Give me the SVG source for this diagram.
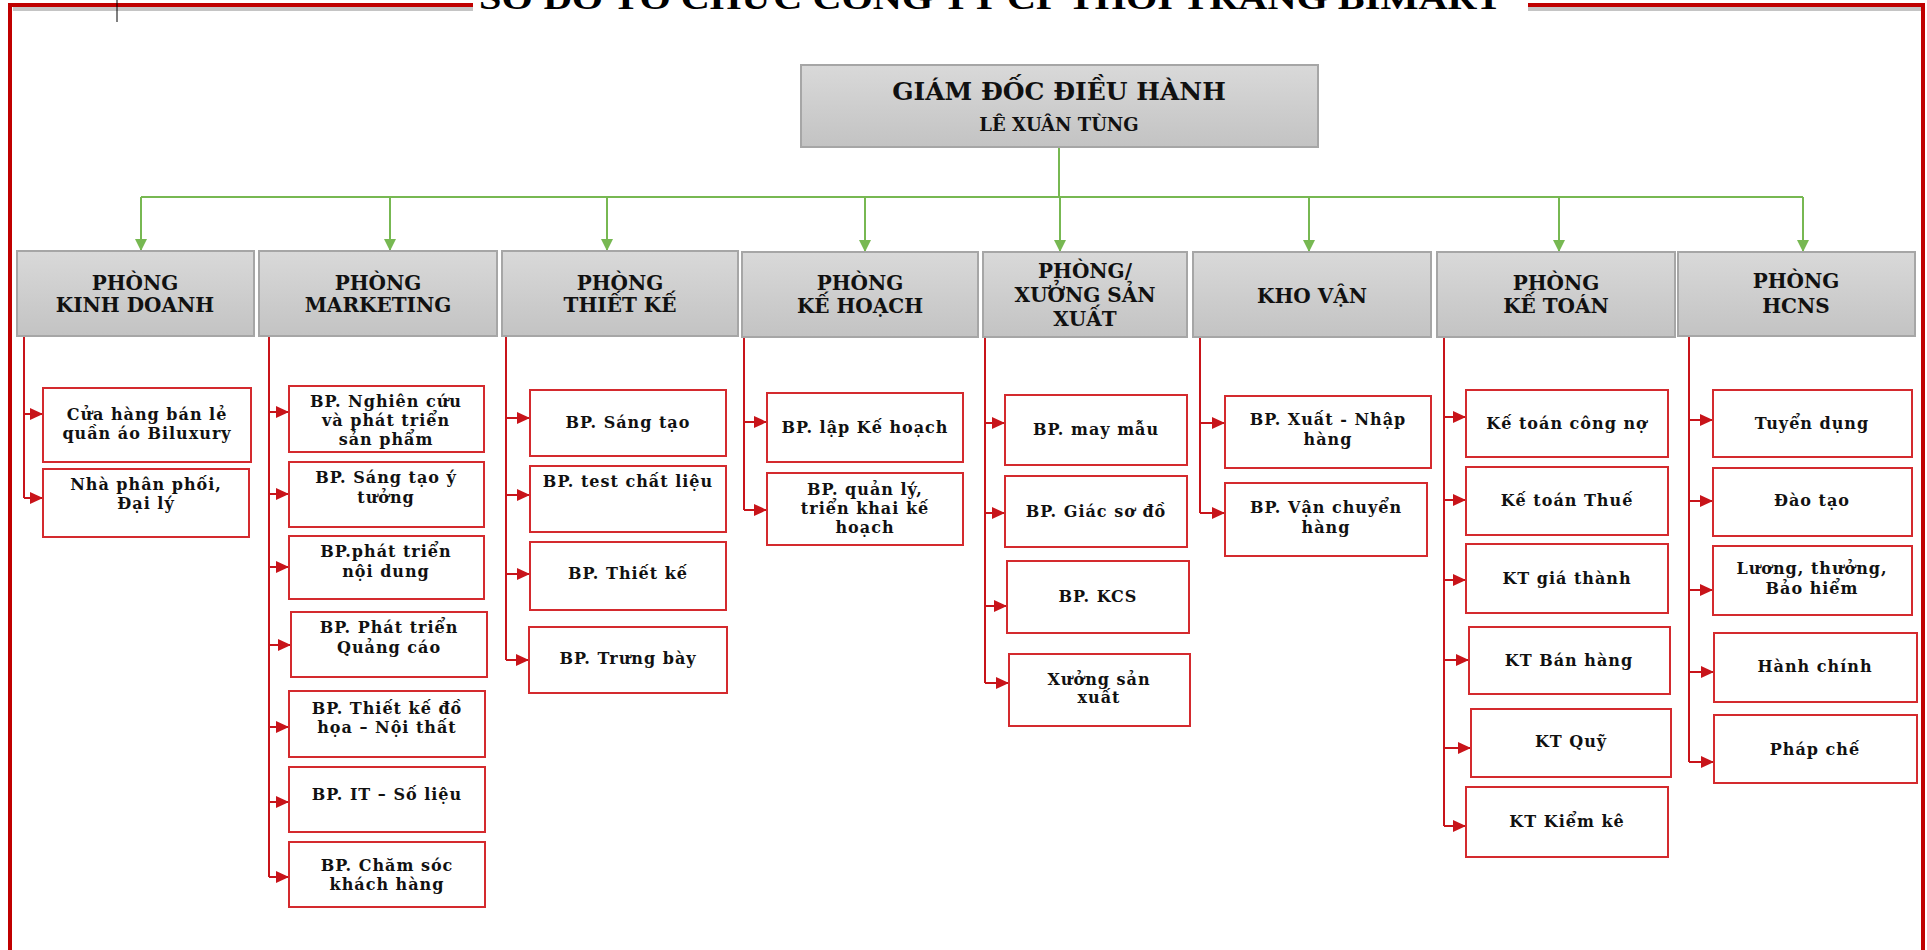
<svg xmlns="http://www.w3.org/2000/svg" width="1927" height="950" viewBox="0 0 1927 950">
<style>
.bg{fill:#ffffff}
.frame{fill:none;stroke:#c00000;stroke-width:4}
.shadow{fill:none;stroke:#c4c4c4;stroke-width:4}
.title{font-family:"Liberation Serif",serif;font-weight:bold;font-size:34px;fill:#000}
.head{fill:url(#g);stroke:#a6a6a6;stroke-width:2}
.ht{font-family:"DejaVu Serif","Liberation Serif",serif;font-weight:bold;font-size:20px;fill:#111;text-anchor:middle}
.ceo{font-family:"DejaVu Serif","Liberation Serif",serif;font-weight:bold;font-size:25px;fill:#111;text-anchor:middle}
.ceo2{font-family:"DejaVu Serif","Liberation Serif",serif;font-weight:bold;font-size:18px;fill:#111;text-anchor:middle}
.sub{fill:#fff;stroke:#d42a2e;stroke-width:2}
.st{font-family:"DejaVu Serif","Liberation Serif",serif;font-weight:bold;font-size:16px;letter-spacing:1px;fill:#111;text-anchor:middle}
.gl{fill:none;stroke:#77b852;stroke-width:2}
.rl{fill:none;stroke:#c8141a;stroke-width:2}
</style>
<defs>
<linearGradient id="g" x1="0" y1="0" x2="0" y2="1">
<stop offset="0" stop-color="#d9d9d9"/>
<stop offset="1" stop-color="#c3c3c3"/>
</linearGradient>
<marker id="ga" markerUnits="userSpaceOnUse" markerWidth="14" markerHeight="12" refX="12" refY="6" orient="auto">
<path d="M0,0 L12,6 L0,12 z" fill="#77b852"/>
</marker>
<marker id="ra" markerUnits="userSpaceOnUse" markerWidth="14" markerHeight="12" refX="13" refY="6" orient="auto">
<path d="M0,0 L13,6 L0,12 z" fill="#c8141a"/>
</marker>
</defs>
<rect class="bg" x="0" y="0" width="1927" height="950"/>

<g id="frame">
<path class="shadow" d="M13,9 H473 M1528,9 H1921"/>
<path class="frame" d="M10,950 V5 H473 M1528,5 H1923 V950"/>
<line x1="117" y1="0" x2="117" y2="22" stroke="#000" stroke-width="1"/>
<text class="title" x="479" y="9" textLength="1023" lengthAdjust="spacingAndGlyphs">SƠ ĐỒ TỔ CHỨC CÔNG TY CP THỜI TRANG BIMART</text>
</g>

<g id="connectors">
<path class="gl" d="M1059,147 V197 M141,197 H1803"/>
<path class="gl" marker-end="url(#ga)" d="M141,197 V251"/>
<path class="gl" marker-end="url(#ga)" d="M390,197 V251"/>
<path class="gl" marker-end="url(#ga)" d="M607,197 V251"/>
<path class="gl" marker-end="url(#ga)" d="M865,197 V252"/>
<path class="gl" marker-end="url(#ga)" d="M1060,197 V252"/>
<path class="gl" marker-end="url(#ga)" d="M1309,197 V252"/>
<path class="gl" marker-end="url(#ga)" d="M1559,197 V252"/>
<path class="gl" marker-end="url(#ga)" d="M1803,197 V252"/>

<path class="rl" d="M24,336 V498"/>
<path class="rl" marker-end="url(#ra)" d="M24,414 H43"/>
<path class="rl" marker-end="url(#ra)" d="M24,498 H43"/>

<path class="rl" d="M269,337 V877"/>
<path class="rl" marker-end="url(#ra)" d="M269,412 H289"/>
<path class="rl" marker-end="url(#ra)" d="M269,494 H289"/>
<path class="rl" marker-end="url(#ra)" d="M269,567 H289"/>
<path class="rl" marker-end="url(#ra)" d="M269,645 H291"/>
<path class="rl" marker-end="url(#ra)" d="M269,727 H289"/>
<path class="rl" marker-end="url(#ra)" d="M269,802 H289"/>
<path class="rl" marker-end="url(#ra)" d="M269,877 H289"/>

<path class="rl" d="M506,337 V660"/>
<path class="rl" marker-end="url(#ra)" d="M506,418 H530"/>
<path class="rl" marker-end="url(#ra)" d="M506,495 H530"/>
<path class="rl" marker-end="url(#ra)" d="M506,574 H530"/>
<path class="rl" marker-end="url(#ra)" d="M506,660 H529"/>

<path class="rl" d="M744,337 V510"/>
<path class="rl" marker-end="url(#ra)" d="M744,422 H767"/>
<path class="rl" marker-end="url(#ra)" d="M744,510 H767"/>

<path class="rl" d="M985,337 V683"/>
<path class="rl" marker-end="url(#ra)" d="M985,423 H1005"/>
<path class="rl" marker-end="url(#ra)" d="M985,513 H1005"/>
<path class="rl" marker-end="url(#ra)" d="M985,606 H1007"/>
<path class="rl" marker-end="url(#ra)" d="M985,683 H1009"/>

<path class="rl" d="M1200,337 V513"/>
<path class="rl" marker-end="url(#ra)" d="M1200,423 H1225"/>
<path class="rl" marker-end="url(#ra)" d="M1200,513 H1225"/>

<path class="rl" d="M1444,337 V826"/>
<path class="rl" marker-end="url(#ra)" d="M1444,417 H1466"/>
<path class="rl" marker-end="url(#ra)" d="M1444,500 H1466"/>
<path class="rl" marker-end="url(#ra)" d="M1444,580 H1466"/>
<path class="rl" marker-end="url(#ra)" d="M1444,660 H1469"/>
<path class="rl" marker-end="url(#ra)" d="M1444,748 H1471"/>
<path class="rl" marker-end="url(#ra)" d="M1444,826 H1466"/>

<path class="rl" d="M1689,336 V762"/>
<path class="rl" marker-end="url(#ra)" d="M1689,420 H1713"/>
<path class="rl" marker-end="url(#ra)" d="M1689,501 H1713"/>
<path class="rl" marker-end="url(#ra)" d="M1689,590 H1713"/>
<path class="rl" marker-end="url(#ra)" d="M1689,672 H1714"/>
<path class="rl" marker-end="url(#ra)" d="M1689,762 H1714"/>
</g>

<g id="ceo">
<rect class="head" x="801" y="65" width="517" height="82"/>
<text class="ceo" x="1059" y="100">GIÁM ĐỐC ĐIỀU HÀNH</text>
<text class="ceo2" x="1059" y="131">LÊ XUÂN TÙNG</text>
</g>

<g id="kinhdoanh">
<rect class="head" x="17" y="251" width="237" height="85"/>
<text class="ht" x="135" y="290">PHÒNG</text>
<text class="ht" x="135" y="312">KINH DOANH</text>
</g>
<g id="marketing">
<rect class="head" x="259" y="251" width="238" height="85"/>
<text class="ht" x="378" y="290">PHÒNG</text>
<text class="ht" x="378" y="312">MARKETING</text>
</g>
<g id="thietke">
<rect class="head" x="502" y="251" width="236" height="85"/>
<text class="ht" x="620" y="290">PHÒNG</text>
<text class="ht" x="620" y="312">THIẾT KẾ</text>
</g>
<g id="kehoach">
<rect class="head" x="742" y="252" width="236" height="85"/>
<text class="ht" x="860" y="290">PHÒNG</text>
<text class="ht" x="860" y="313">KẾ HOẠCH</text>
</g>
<g id="sanxuat">
<rect class="head" x="983" y="252" width="204" height="85"/>
<text class="ht" x="1085" y="278">PHÒNG/</text>
<text class="ht" x="1085" y="302">XƯỞNG SẢN</text>
<text class="ht" x="1085" y="326">XUẤT</text>
</g>
<g id="khovan">
<rect class="head" x="1193" y="252" width="238" height="85"/>
<text class="ht" x="1312" y="303">KHO VẬN</text>
</g>
<g id="ketoan">
<rect class="head" x="1437" y="252" width="238" height="85"/>
<text class="ht" x="1556" y="290">PHÒNG</text>
<text class="ht" x="1556" y="313">KẾ TOÁN</text>
</g>
<g id="hcns">
<rect class="head" x="1678" y="252" width="237" height="84"/>
<text class="ht" x="1796" y="288">PHÒNG</text>
<text class="ht" x="1796" y="313">HCNS</text>
</g>

<g id="kd1"><rect class="sub" x="43" y="388" width="208" height="74"/><text class="st" x="147" y="420">Cửa hàng bán lẻ</text><text class="st" x="147" y="439">quần áo Biluxury</text></g>
<g id="kd2"><rect class="sub" x="43" y="469" width="206" height="68"/><text class="st" x="146" y="490">Nhà phân phối,</text><text class="st" x="146" y="509">Đại lý</text></g>

<g id="mk1"><rect class="sub" x="289" y="386" width="195" height="66"/><text class="st" x="386" y="407">BP. Nghiên cứu</text><text class="st" x="386" y="426">và phát triển</text><text class="st" x="386" y="445">sản phẩm</text></g>
<g id="mk2"><rect class="sub" x="289" y="462" width="195" height="65"/><text class="st" x="386" y="483">BP. Sáng tạo ý</text><text class="st" x="386" y="503">tưởng</text></g>
<g id="mk3"><rect class="sub" x="289" y="536" width="195" height="63"/><text class="st" x="386" y="557">BP.phát triển</text><text class="st" x="386" y="577">nội dung</text></g>
<g id="mk4"><rect class="sub" x="291" y="612" width="196" height="65"/><text class="st" x="389" y="633">BP. Phát triển</text><text class="st" x="389" y="653">Quảng cáo</text></g>
<g id="mk5"><rect class="sub" x="289" y="691" width="196" height="66"/><text class="st" x="387" y="714">BP. Thiết kế đồ</text><text class="st" x="387" y="733">họa – Nội thất</text></g>
<g id="mk6"><rect class="sub" x="289" y="767" width="196" height="65"/><text class="st" x="387" y="800">BP. IT – Số liệu</text></g>
<g id="mk7"><rect class="sub" x="289" y="842" width="196" height="65"/><text class="st" x="387" y="871">BP. Chăm sóc</text><text class="st" x="387" y="890">khách hàng</text></g>

<g id="tk1"><rect class="sub" x="530" y="390" width="196" height="66"/><text class="st" x="628" y="428">BP. Sáng tạo</text></g>
<g id="tk2"><rect class="sub" x="530" y="466" width="196" height="66"/><text class="st" x="628" y="487">BP. test chất liệu</text></g>
<g id="tk3"><rect class="sub" x="530" y="542" width="196" height="68"/><text class="st" x="628" y="579">BP. Thiết kế</text></g>
<g id="tk4"><rect class="sub" x="529" y="627" width="198" height="66"/><text class="st" x="628" y="664">BP. Trưng bày</text></g>

<g id="kh1"><rect class="sub" x="767" y="393" width="196" height="69"/><text class="st" x="865" y="433">BP. lập Kế hoạch</text></g>
<g id="kh2"><rect class="sub" x="767" y="473" width="196" height="72"/><text class="st" x="865" y="495">BP. quản lý,</text><text class="st" x="865" y="514">triển khai kế</text><text class="st" x="865" y="533">hoạch</text></g>

<g id="sx1"><rect class="sub" x="1005" y="395" width="182" height="70"/><text class="st" x="1096" y="435">BP. may mẫu</text></g>
<g id="sx2"><rect class="sub" x="1005" y="476" width="182" height="71"/><text class="st" x="1096" y="517">BP. Giác sơ đồ</text></g>
<g id="sx3"><rect class="sub" x="1007" y="561" width="182" height="72"/><text class="st" x="1098" y="602">BP. KCS</text></g>
<g id="sx4"><rect class="sub" x="1009" y="654" width="181" height="72"/><text class="st" x="1099" y="685">Xưởng sản</text><text class="st" x="1099" y="703">xuất</text></g>

<g id="kv1"><rect class="sub" x="1225" y="396" width="206" height="72"/><text class="st" x="1328" y="425">BP. Xuất - Nhập</text><text class="st" x="1328" y="445">hàng</text></g>
<g id="kv2"><rect class="sub" x="1225" y="483" width="202" height="73"/><text class="st" x="1326" y="513">BP. Vận chuyển</text><text class="st" x="1326" y="533">hàng</text></g>

<g id="kt1"><rect class="sub" x="1466" y="390" width="202" height="67"/><text class="st" x="1567" y="429">Kế toán công nợ</text></g>
<g id="kt2"><rect class="sub" x="1466" y="467" width="202" height="68"/><text class="st" x="1567" y="506">Kế toán Thuế</text></g>
<g id="kt3"><rect class="sub" x="1466" y="544" width="202" height="69"/><text class="st" x="1567" y="584">KT giá thành</text></g>
<g id="kt4"><rect class="sub" x="1469" y="627" width="201" height="67"/><text class="st" x="1569" y="666">KT Bán hàng</text></g>
<g id="kt5"><rect class="sub" x="1471" y="709" width="200" height="68"/><text class="st" x="1571" y="747">KT Quỹ</text></g>
<g id="kt6"><rect class="sub" x="1466" y="787" width="202" height="70"/><text class="st" x="1567" y="827">KT Kiểm kê</text></g>

<g id="ns1"><rect class="sub" x="1713" y="390" width="199" height="67"/><text class="st" x="1812" y="429">Tuyển dụng</text></g>
<g id="ns2"><rect class="sub" x="1713" y="468" width="199" height="68"/><text class="st" x="1812" y="506">Đào tạo</text></g>
<g id="ns3"><rect class="sub" x="1713" y="546" width="199" height="69"/><text class="st" x="1812" y="574">Lương, thưởng,</text><text class="st" x="1812" y="594">Bảo hiểm</text></g>
<g id="ns4"><rect class="sub" x="1714" y="633" width="203" height="69"/><text class="st" x="1815" y="672">Hành chính</text></g>
<g id="ns5"><rect class="sub" x="1714" y="715" width="203" height="68"/><text class="st" x="1815" y="755">Pháp chế</text></g>
</svg>
